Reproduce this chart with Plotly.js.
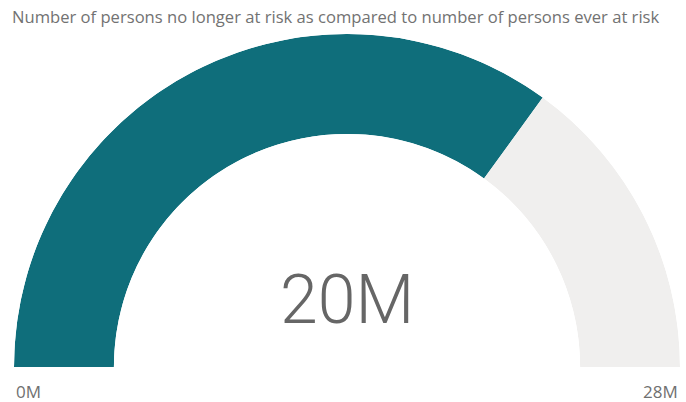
<!DOCTYPE html>
<html><head>
<meta charset="utf-8">
<script src="https://cdn.plot.ly/plotly-3.0.1.min.js"></script>
<style>html,body{margin:0;padding:0;background:#fff;overflow:hidden}</style>
</head><body>
<div id="chart" style="width:686px;height:402px"></div>
<script>
// ---- data ----
const titleText = 'Number of persons no longer at risk as compared to number of persons ever at risk';
const gaugeMin = 0;          // millions
const gaugeMax = 28;         // millions (persons ever at risk)
const gaugeValue = 19.6;     // millions (persons no longer at risk)
const unitSuffix = 'M';
const segmentNames = ['No longer at risk', 'Remaining'];
const segmentColors = ['#0f6e7b', '#f0efee'];

// ---- build ----
const toDeg = v => (v - gaugeMin) / (gaugeMax - gaugeMin) * 180;
const starts = [gaugeMin, gaugeValue];
const ends = [gaugeValue, gaugeMax];

const traces = segmentNames.map((name, i) => ({
  type: 'barpolar',
  name: name,
  r: [1],
  base: [0],
  theta: [(toDeg(starts[i]) + toDeg(ends[i])) / 2],
  width: [toDeg(ends[i]) - toDeg(starts[i])],
  marker: {color: segmentColors[i], line: {width: 0}},
  hoverinfo: 'skip'
}));

const fmt = v => Math.round(v) + unitSuffix;

const layout = {
  width: 686, height: 402,
  margin: {l: 14, r: 6, t: 34, b: 35},
  paper_bgcolor: '#ffffff',
  showlegend: false,
  title: {
    text: titleText,
    xref: 'container', yref: 'container',
    x: 12 / 686, xanchor: 'left',
    y: 1 - 17 / 402, yanchor: 'middle',
    font: {family: 'Open Sans, sans-serif', size: 16.6, color: '#727272'}
  },
  polar: {
    sector: [0, 180],
    hole: 0.7,
    bgcolor: 'rgba(0,0,0,0)',
    radialaxis: {range: [0, 1], visible: false, showgrid: false},
    angularaxis: {visible: false, showgrid: false, rotation: 180, direction: 'clockwise'}
  },
  annotations: [
    {text: fmt(gaugeValue), xref: 'paper', yref: 'paper', x: 0.5, y: 0.2, xanchor: 'center', yanchor: 'middle',
     showarrow: false, font: {family: 'Roboto, sans-serif', size: 68, weight: 300, color: '#666666'}},
    {text: fmt(gaugeMin), xref: 'paper', yref: 'paper', x: 0, y: 0, xanchor: 'left', yanchor: 'top', yshift: -11,
     showarrow: false, font: {family: 'Open Sans, sans-serif', size: 17, color: '#707070'}},
    {text: fmt(gaugeMax), xref: 'paper', yref: 'paper', x: 1, y: 0, xanchor: 'right', yanchor: 'top', yshift: -11,
     showarrow: false, font: {family: 'Open Sans, sans-serif', size: 17, color: '#707070'}}
  ]
};

Plotly.newPlot('chart', traces, layout, {displayModeBar: false, staticPlot: true});
</script>
</body></html>
